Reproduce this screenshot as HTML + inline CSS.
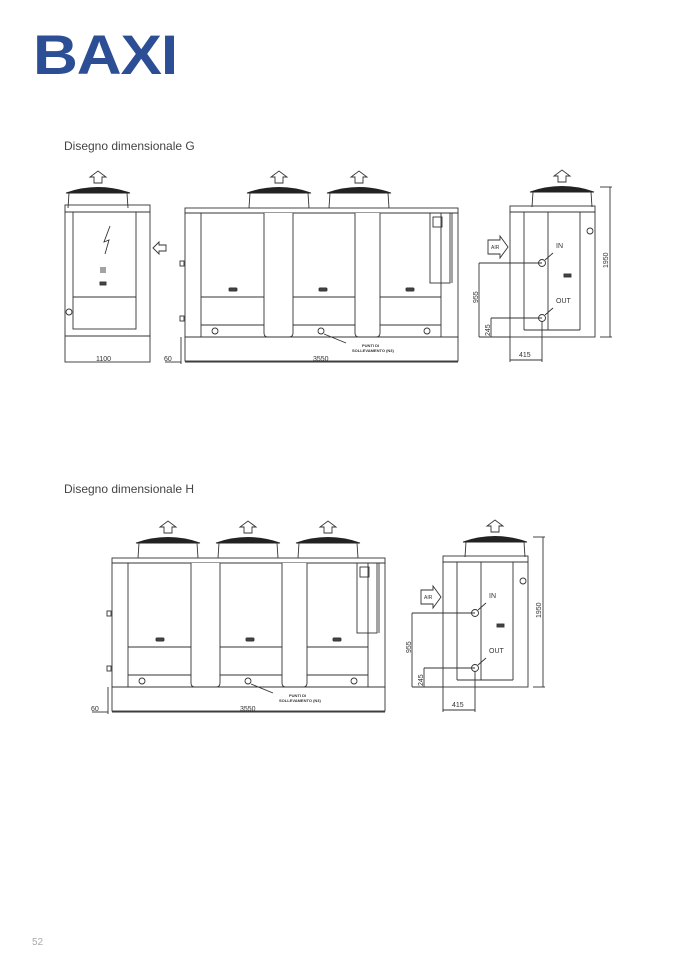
<!DOCTYPE html>
<html><head><meta charset="utf-8"><style>
html,body{margin:0;padding:0;background:#fff;}
body{width:678px;height:959px;position:relative;overflow:hidden;font-family:"Liberation Sans",sans-serif;}
.logo{position:absolute;left:33px;top:27px;font-weight:bold;font-size:56px;color:#2b4e95;letter-spacing:-1px;transform:scaleX(1.11);transform-origin:left top;line-height:1;}
.h{position:absolute;left:64px;font-size:12px;color:#444;}
.pg{position:absolute;left:32px;top:937px;font-size:10px;color:#aaa;}
svg{position:absolute;left:0;top:0;}
</style></head><body>
<div class="logo">BAXI</div>
<div class="h" style="top:139px">Disegno dimensionale G</div>
<div class="h" style="top:482px">Disegno dimensionale H</div>
<div class="pg">52</div>
<svg width="678" height="959" viewBox="0 0 678 959" fill="none" stroke="#333" stroke-width="0.9" font-family="Liberation Sans, sans-serif">
<defs>
<g id="fan">
<path d="M-30 208 L-29 193 L29 193 L30 208" />
<path d="M-32 193 Q0 182 32 193 Z" fill="#222" stroke="#222"/>
<path d="M-4 183 L-4 177 L-8 177 L0 171 L8 177 L4 177 L4 183 Z" fill="#fff"/>
</g>
<g id="main">
<rect x="185" y="208" width="273" height="5"/>
<rect x="185" y="213" width="273" height="124"/>
<rect x="185" y="337" width="273" height="24"/>
<line x1="201" y1="213" x2="201" y2="337"/>
<line x1="441" y1="213" x2="441" y2="337"/>
<line x1="201" y1="325" x2="441" y2="325"/>
<path d="M264 213 L264 333 Q264 337 268 337 L289 337 Q293 337 293 333 L293 213" fill="#fff"/>
<path d="M355 213 L355 333 Q355 337 359 337 L376 337 Q380 337 380 333 L380 213" fill="#fff"/>
<line x1="201" y1="297" x2="264" y2="297"/><line x1="293" y1="297" x2="355" y2="297"/><line x1="380" y1="297" x2="441" y2="297"/>
<rect x="229" y="288" width="8" height="3" rx="1" fill="#444"/>
<rect x="319" y="288" width="8" height="3" rx="1" fill="#444"/>
<rect x="406" y="288" width="8" height="3" rx="1" fill="#444"/>
<circle cx="215" cy="331" r="3"/><circle cx="321" cy="331" r="3"/><circle cx="427" cy="331" r="3"/>
<rect x="430" y="213" width="20" height="70"/><rect x="433" y="217" width="9" height="10"/>
<line x1="452" y1="213" x2="452" y2="283"/>
<rect x="180" y="261" width="4" height="5"/><rect x="180" y="316" width="4" height="5"/>
<line x1="324" y1="334" x2="346" y2="343"/>
<line x1="181" y1="337" x2="181" y2="364"/>
<line x1="185" y1="362" x2="458" y2="362"/>
<line x1="165" y1="362" x2="181" y2="362"/>
</g>
<g id="side">
<rect x="510" y="206" width="85" height="6"/>
<rect x="510" y="212" width="85" height="125"/>
<line x1="524" y1="212" x2="524" y2="330"/><line x1="580" y1="212" x2="580" y2="330"/>
<line x1="548" y1="212" x2="548" y2="330"/><line x1="524" y1="330" x2="580" y2="330"/>
<circle cx="590" cy="231" r="3"/>
<rect x="564" y="274" width="7" height="3" fill="#444"/>
<circle cx="542" cy="263" r="3.5"/><circle cx="542" cy="318" r="3.5"/>
<path d="M545 260 L553 253" /><path d="M545 315 L553 308"/>
<path d="M488 240 L500 240 L500 236 L508 247 L500 258 L500 254 L488 254 Z" fill="#fff"/>
<line x1="479" y1="263" x2="542" y2="263"/><line x1="479" y1="263" x2="479" y2="337"/>
<line x1="491" y1="318" x2="542" y2="318"/><line x1="491" y1="318" x2="491" y2="337"/>
<line x1="479" y1="337" x2="510" y2="337"/>
<line x1="510" y1="337" x2="510" y2="362"/><line x1="542" y1="321" x2="542" y2="362"/>
<line x1="510" y1="360" x2="542" y2="360"/>
<line x1="600" y1="187" x2="612" y2="187"/><line x1="600" y1="337" x2="612" y2="337"/>
<line x1="610" y1="187" x2="610" y2="337"/>
</g>
</defs>

<use href="#fan" transform="translate(98,0)"/>
<rect x="65" y="205" width="85" height="7"/>
<rect x="65" y="212" width="85" height="124"/>
<rect x="65" y="336" width="85" height="26"/>
<rect x="73" y="212" width="63" height="117"/>
<line x1="73" y1="297" x2="136" y2="297"/>
<path d="M110 226 L104 242 L109 240 L105 254" />
<line x1="100" y1="268" x2="106" y2="268"/><line x1="100" y1="270" x2="106" y2="270"/><line x1="100" y1="272" x2="106" y2="272"/>
<rect x="100" y="282" width="6" height="3" fill="#444"/>
<circle cx="69" cy="312" r="3"/>
<path d="M153 248 L159 242 L159 245 L166 245 L166 251 L159 251 L159 254 Z"/>

<use href="#main"/>
<use href="#fan" transform="translate(279,0)"/>
<use href="#fan" transform="translate(359,0)"/>
<use href="#side"/>
<use href="#fan" transform="translate(562,-1)"/>

<g font-size="7" fill="#333" stroke="none">
<text x="96" y="361">1100</text>
<text x="164" y="361">60</text>
<text x="313" y="361">3550</text>
<text x="362" y="347" font-size="4" font-weight="bold">PUNTI DI</text>
<text x="352" y="352" font-size="4" font-weight="bold">SOLLEVAMENTO (N3)</text>
<text x="556" y="248">IN</text><text x="556" y="303">OUT</text>
<text x="491" y="249" font-size="5">AIR</text>
<text x="519" y="357">415</text>
<text transform="translate(478,303) rotate(-90)">955</text>
<text transform="translate(490,336) rotate(-90)">245</text>
<text transform="translate(608,268) rotate(-90)">1950</text>
</g>

<use href="#main" transform="translate(-73,350)"/>
<use href="#fan" transform="translate(168,350)"/>
<use href="#fan" transform="translate(248,350)"/>
<use href="#fan" transform="translate(328,350)"/>
<use href="#side" transform="translate(-67,350)"/>
<use href="#fan" transform="translate(495,349)"/>
<g font-size="7" fill="#333" stroke="none">
<text x="91" y="711">60</text>
<text x="240" y="711">3550</text>
<text x="289" y="697" font-size="4" font-weight="bold">PUNTI DI</text>
<text x="279" y="702" font-size="4" font-weight="bold">SOLLEVAMENTO (N3)</text>
<text x="489" y="598">IN</text><text x="489" y="653">OUT</text>
<text x="424" y="599" font-size="5">AIR</text>
<text x="452" y="707">415</text>
<text transform="translate(411,653) rotate(-90)">955</text>
<text transform="translate(423,686) rotate(-90)">245</text>
<text transform="translate(541,618) rotate(-90)">1950</text>
</g>
</svg>
</body></html>
